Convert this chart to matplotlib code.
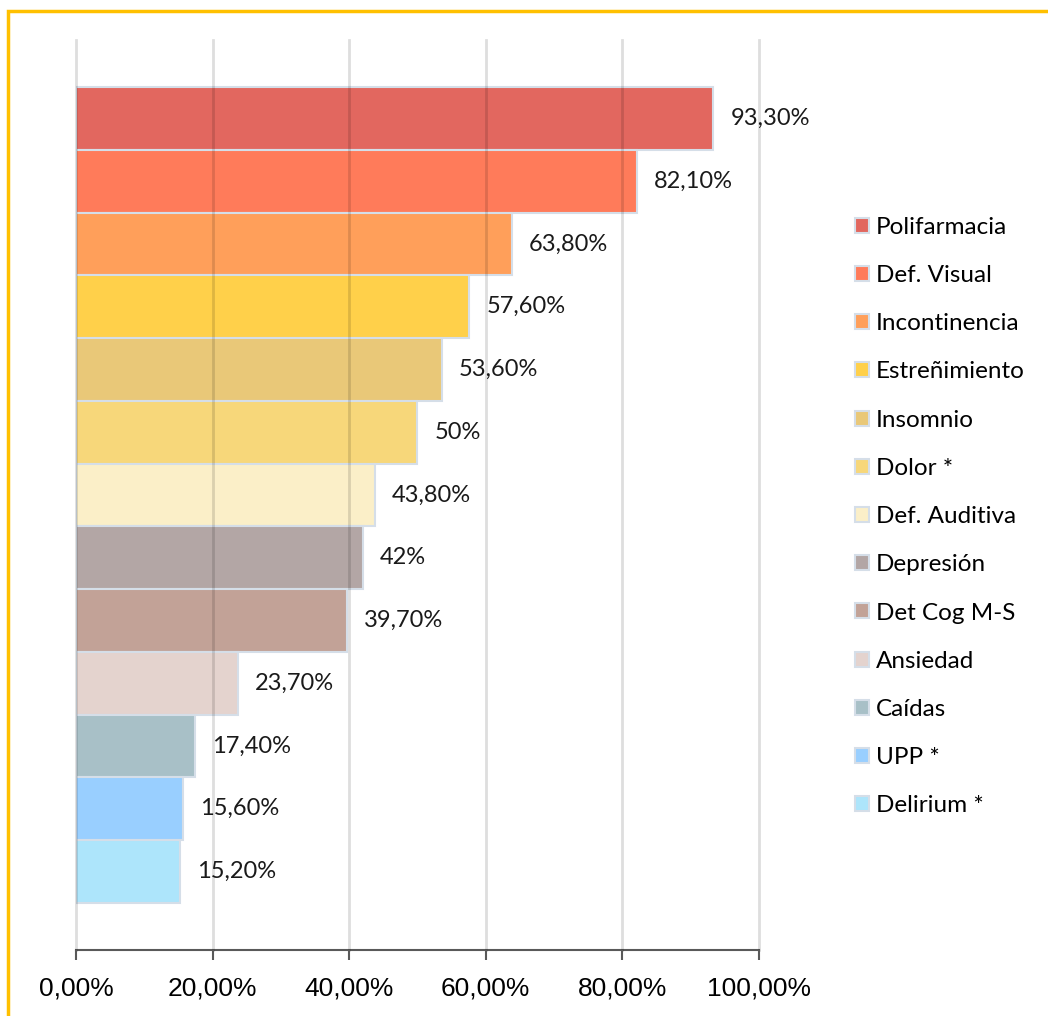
import matplotlib.pyplot as plt
from matplotlib.patches import Rectangle

# data
categories = ["Polifarmacia", "Def. Visual", "Incontinencia", "Estreñimiento",
              "Insomnio", "Dolor *", "Def. Auditiva", "Depresión",
              "Det Cog M-S", "Ansiedad", "Caídas", "UPP *", "Delirium *"]
values = [93.3, 82.1, 63.8, 57.6, 53.6, 50.0, 43.8, 42.0, 39.7, 23.7, 17.4, 15.6, 15.2]
value_labels = ["93,30%", "82,10%", "63,80%", "57,60%", "53,60%", "50%", "43,80%",
                "42%", "39,70%", "23,70%", "17,40%", "15,60%", "15,20%"]
colors = ["#E2675F", "#FF7B5A", "#FF9F5A", "#FFD04A", "#E9C878", "#F7D77A",
          "#FBEFC8", "#B3A6A5", "#C2A297", "#E4D3CE", "#A8C0C7", "#99CFFF", "#ADE5FB"]
xticks = [0, 20, 40, 60, 80, 100]
xtick_labels = ["0,00%", "20,00%", "40,00%", "60,00%", "80,00%", "100,00%"]

fig = plt.figure(figsize=(10.48, 10.16), dpi=100)
ax = fig.add_axes([76 / 1048, 1 - 950 / 1016, (759 - 76) / 1048, (950 - 40) / 1016])

# yellow frame (only top and left edge are visible in the original)
fig.patches.append(Rectangle((8 / 1048, -0.1), 1.2, 1 - 11 / 1016 + 0.1,
                             transform=fig.transFigure, fill=False,
                             edgecolor="#FFC000", linewidth=2.5))

bars = []
for i, (cat, val, col) in enumerate(zip(categories, values, colors)):
    b = ax.barh(i, val, height=1.0, color=col, edgecolor="#D5DEE8",
                linewidth=1.5, label=cat, zorder=2)
    bars.append(b)
    ax.text(val + 2.5, i, value_labels[i], va="center", ha="left",
            fontsize=17, family="Lato", color="#1a1a1a")

ax.set_ylim(12 + 1.25, -1.25)
ax.set_xlim(0, 100)
ax.set_xticks(xticks)
ax.set_xticklabels(xtick_labels, fontsize=19, family="Liberation Sans")
ax.set_yticks([])
ax.tick_params(axis="x", length=7, width=1.5, color="#595959", pad=12)

# light grid, drawn over the bars so it shows through them
ax.grid(axis="x", color="black", alpha=0.13, linewidth=2, zorder=3)
ax.set_axisbelow(False)
for gl in ax.get_xgridlines():
    gl.set_clip_on(False)
for side in ["top", "right", "left"]:
    ax.spines[side].set_visible(False)
ax.spines["bottom"].set_color("#595959")
ax.spines["bottom"].set_linewidth(1.5)

leg = fig.legend(handles=[b[0] for b in bars], labels=categories,
                 loc="upper left", bbox_to_anchor=(845 / 1048, 1 - 207 / 1016),
                 frameon=False, prop={"family": "Lato", "size": 17.5},
                 handlelength=0.57, handleheight=0.57, handletextpad=0.3,
                 labelspacing=1.12, borderaxespad=0)

fig.savefig("out.png", dpi=100)
